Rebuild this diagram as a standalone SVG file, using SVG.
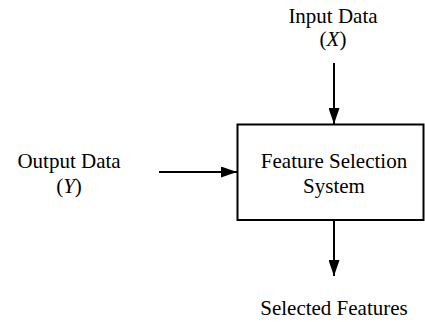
<svg xmlns="http://www.w3.org/2000/svg" width="425" height="322" viewBox="0 0 425 322">
  <style>
    text { font-family: "Liberation Serif", "Times New Roman", serif; font-size: 21px; fill: #000; text-anchor: middle; }
    .var { font-style: italic; }
    .edge { stroke: #000; stroke-width: 2; fill: none; }
    .box { stroke: #000; stroke-width: 2; fill: #fff; }
  </style>
  <defs>
    <marker id="arrow" viewBox="0 0 16 11" refX="16" refY="5.5" markerWidth="16" markerHeight="11" markerUnits="userSpaceOnUse" orient="auto">
      <path d="M0,0 L16,5.5 L0,11 Z" fill="#000"/>
    </marker>
  </defs>

  <g id="connectors">
    <line class="edge" x1="334" y1="63" x2="334" y2="124" marker-end="url(#arrow)"/>
    <line class="edge" x1="159" y1="172" x2="237" y2="172" marker-end="url(#arrow)"/>
    <line class="edge" x1="334" y1="220" x2="334" y2="276" marker-end="url(#arrow)"/>
  </g>

  <g id="system">
    <rect class="box" x="237.5" y="124.5" width="186" height="95.5"/>
    <text x="334" y="168">Feature Selection</text>
    <text x="334" y="193">System</text>
  </g>

  <g id="input">
    <text x="333" y="23">Input Data</text>
    <text x="333" y="46">(<tspan class="var">X</tspan>)</text>
  </g>

  <g id="output">
    <text x="69" y="168">Output Data</text>
    <text x="69" y="193">(<tspan class="var">Y</tspan>)</text>
  </g>

  <g id="selected">
    <text x="334" y="315">Selected Features</text>
  </g>
</svg>
